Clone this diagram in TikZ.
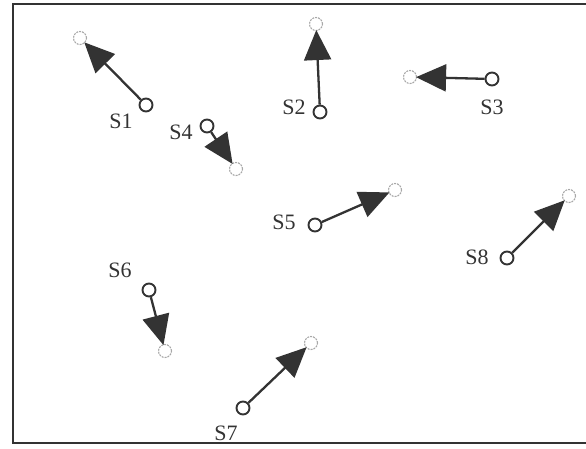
\documentclass[tikz,border=0pt]{standalone}
\usepackage{fontspec}
\setmainfont{Liberation Serif}
\usetikzlibrary{arrows.meta}
\definecolor{ink}{HTML}{333333}
\definecolor{faint}{HTML}{A8A8A8}
\tikzset{
  startpt/.style={circle, draw=ink, line width=1.9pt, minimum size=13pt, inner sep=0pt},
  endpt/.style={circle, draw=faint, line width=1.1pt, dash pattern=on 2pt off 1pt, minimum size=13pt, inner sep=0pt},
  motion/.style={draw=ink, line width=2.3pt, -{Triangle[length=30pt,width=27pt]}, shorten >=-1pt},
  lbl/.style={font=\fontsize{22}{24}\selectfont, text=ink, inner sep=0pt}
}
\begin{document}
\begin{tikzpicture}[x=1pt,y=-1pt]
\useasboundingbox (0,0) rectangle (586,449);
\draw[ink, line width=2pt] (586,4) -- (13,4) -- (13,443) -- (586,443);
% S1
\node[startpt] (s1) at (146,105) {};
\node[endpt] (e1) at (80,38) {};
\draw[motion] (s1) -- (e1);
\node[lbl] (l1) at (121,121) {S1};
% S2
\node[startpt] (s2) at (320,112) {};
\node[endpt] (e2) at (316,24) {};
\draw[motion] (s2) -- (e2);
\node[lbl] (l2) at (294,107) {S2};
% S3
\node[startpt] (s3) at (492,79) {};
\node[endpt] (e3) at (410,77) {};
\draw[motion] (s3) -- (e3);
\node[lbl] (l3) at (492,107) {S3};
% S4
\node[startpt] (s4) at (207,126) {};
\node[endpt] (e4) at (236,169) {};
\draw[motion] (s4) -- (e4);
\node[lbl] (l4) at (181,132) {S4};
% S5
\node[startpt] (s5) at (315,225) {};
\node[endpt] (e5) at (395,190) {};
\draw[motion] (s5) -- (e5);
\node[lbl] (l5) at (284,222) {S5};
% S6
\node[startpt] (s6) at (149,290) {};
\node[endpt] (e6) at (165,351) {};
\draw[motion] (s6) -- (e6);
\node[lbl] (l6) at (120,270) {S6};
% S7
\node[startpt] (s7) at (243,408) {};
\node[endpt] (e7) at (311,343) {};
\draw[motion] (s7) -- (e7);
\node[lbl] (l7) at (226,433) {S7};
% S8
\node[startpt] (s8) at (507,258) {};
\node[endpt] (e8) at (569,196) {};
\draw[motion] (s8) -- (e8);
\node[lbl] (l8) at (477,257) {S8};
\end{tikzpicture}
\end{document}
